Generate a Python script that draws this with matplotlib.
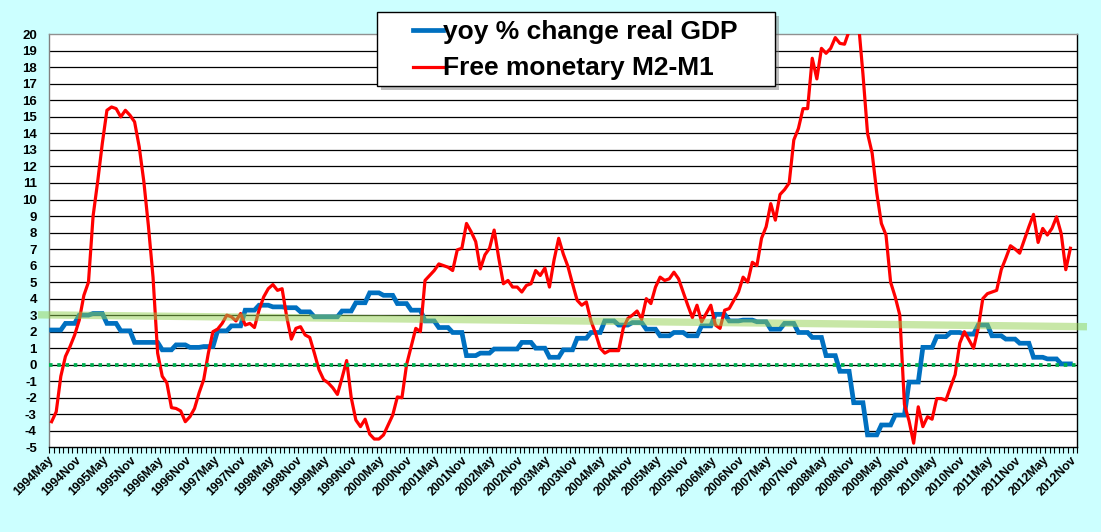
import numpy as np
import pandas as pd
import matplotlib
matplotlib.use("Agg")
import matplotlib.pyplot as plt
import matplotlib.transforms as mtransforms
from matplotlib.patches import Rectangle
from matplotlib.lines import Line2D

plt.rcParams['font.family'] = ['Liberation Sans', 'DejaVu Sans']
plt.rcParams['font.weight'] = 'bold'
plt.rcParams['axes.unicode_minus'] = False

# monthly categories 1994May .. 2012Nov
months = pd.date_range('1994-05-01', '2012-11-01', freq='MS')
month_labels = [f"{d.year}{d.strftime('%b')}" for d in months]

# yoy % change real GDP, one value per quarter (plotted monthly)
gdp_quarterly = [2.1, 2.5, 3.0, 3.1, 2.5, 2.05, 1.35, 1.35, 0.9, 1.2,
                 1.05, 1.1, 2.05, 2.35, 3.3, 3.6, 3.5, 3.45, 3.2, 2.9,
                 2.9, 3.25, 3.75, 4.35, 4.2, 3.7, 3.3, 2.65, 2.25, 1.95,
                 0.55, 0.7, 0.95, 0.95, 1.35, 1.0, 0.45, 0.9, 1.6, 1.95,
                 2.65, 2.4, 2.55, 2.15, 1.75, 1.95, 1.75, 2.35, 3.05, 2.65,
                 2.7, 2.6, 2.15, 2.5, 1.95, 1.65, 0.55, -0.4, -2.3, -4.25,
                 -3.65, -3.05, -1.05, 1.05, 1.7, 1.95, 1.85, 2.4, 1.75, 1.55,
                 1.3, 0.45, 0.35, 0.05]

# free monetary M2-M1, monthly from 1994May
m2m1_monthly = [
    -3.45, -2.85, -0.7, 0.5, 1.1, 1.8, 2.7, 4.2, 5.0, 9.0, 11.1, 13.4,
    15.4, 15.6, 15.5, 15.0, 15.4, 15.1, 14.7, 13.2, 11.1, 8.4, 5.3, 0.7,
    -0.7, -1.1, -2.6, -2.65, -2.8, -3.45, -3.15, -2.65, -1.7, -0.9, 0.7, 2.0,
    2.15, 2.5, 3.0, 2.9, 2.65, 3.1, 2.4, 2.5, 2.25, 3.3, 4.1, 4.6,
    4.85, 4.5, 4.6, 2.9, 1.55, 2.2, 2.3, 1.8, 1.65, 0.7, -0.3, -0.9,
    -1.1, -1.4, -1.8, -0.8, 0.25, -2.0, -3.35, -3.75, -3.3, -4.2, -4.5, -4.5,
    -4.25, -3.65, -3.05, -1.95, -2.0, 0.0, 1.1, 2.2, 2.0, 5.1, 5.4, 5.7,
    6.1, 6.0, 5.9, 5.7, 6.95, 7.05, 8.55, 8.05, 7.45, 5.8, 6.65, 7.05,
    8.15, 6.45, 4.9, 5.1, 4.7, 4.7, 4.4, 4.8, 4.9, 5.7, 5.4, 5.85,
    4.7, 6.35, 7.65, 6.7, 5.95, 4.9, 3.9, 3.6, 3.8, 2.65, 1.9, 1.0,
    0.7, 0.85, 0.85, 0.85, 2.2, 2.8, 3.0, 3.25, 2.75, 4.0, 3.7, 4.7,
    5.3, 5.1, 5.2, 5.6, 5.2, 4.4, 3.6, 2.85, 3.6, 2.6, 3.1, 3.6,
    2.4, 2.2, 3.3, 3.4, 3.9, 4.4, 5.3, 5.0, 6.2, 6.0, 7.65, 8.35,
    9.75, 8.75, 10.3, 10.6, 11.0, 13.6, 14.3, 15.5, 15.5, 18.55, 17.3, 19.15,
    18.85, 19.15, 19.8, 19.45, 19.4, 20.2, 21.0, 20.8, 17.6, 14.0, 12.8, 10.4,
    8.55, 7.85, 5.0, 4.1, 3.0, -2.4, -3.4, -4.75, -2.55, -3.75, -3.15, -3.3,
    -2.05, -2.05, -2.15, -1.35, -0.6, 1.3, 2.0, 1.5, 1.0, 2.2, 4.0, 4.3,
    4.4, 4.5, 5.75, 6.45, 7.2, 7.0, 6.75, 7.55, 8.35, 9.1, 7.4, 8.25,
    7.85, 8.25, 8.95, 7.95, 5.75, 7.05,
]

# hand-drawn trend band (extends past the plot area)
trend_x = [-2.95, 224.6]
trend_y = [3.02, 2.3]

W, H = 1101, 532
fig = plt.figure(figsize=(W / 100, H / 100), dpi=100, facecolor='#CCFFFF')
ax = fig.add_axes([49.3 / W, 1 - 447.3 / H, (1077.3 - 49.3) / W, (447.3 - 34.3) / H])
ax.set_facecolor('white')

gdp = np.repeat(gdp_quarterly, 3)
x_gdp = np.arange(len(gdp))
x_m2 = np.arange(len(m2m1_monthly))

for v in range(-4, 20):
    ax.axhline(v, color='black', lw=0.9, zorder=1)

ax.plot(x_gdp, gdp, color='#0070C0', lw=3.4, zorder=3, solid_joinstyle='miter')
ax.plot(x_m2, m2m1_monthly, color='#FF0000', lw=2.3, zorder=4)

ax.plot(trend_x, trend_y, color='#92D050', alpha=0.5, lw=5.3, clip_on=False,
        zorder=5, solid_capstyle='butt')
ax.plot([-0.5, len(months) - 0.5], [0, 0], color='#00B050', lw=2.7,
        dashes=(0.95, 1.25), zorder=5, clip_on=False)

ax.set_xlim(-0.5, len(months) - 0.5)
ax.set_ylim(-5, 20)
ax.set_yticks(range(-5, 21))
ax.tick_params(axis='y', length=0, pad=9, labelsize=9.5)

label_pos = np.arange(0, len(months), 6)
ax.set_xticks(label_pos)
ax.set_xticklabels([month_labels[i] for i in label_pos], rotation=45,
                   ha='right', va='top', fontsize=8.7)
ax.set_xticks(np.arange(-0.5, len(months)), minor=True)
ax.tick_params(axis='x', which='major', length=0, pad=5)
ax.tick_params(axis='x', which='minor', length=4, width=0.8, direction='out')
shift = mtransforms.ScaledTranslation(4 / 100, 0, fig.dpi_scale_trans)
for lab in ax.get_xticklabels():
    lab.set_transform(lab.get_transform() + shift)

ax.spines['left'].set_color('#808080')
ax.spines['top'].set_color('#909090')
ax.spines['right'].set_color('black')
ax.spines['bottom'].set_color('black')
for s in ax.spines.values():
    s.set_linewidth(1.0)


def fx(px):
    return px / W


def fy(py):
    return 1 - py / H


# legend box drawn by hand
fig.add_artist(Rectangle((fx(381), fy(90)), 398 / W, 74 / H, transform=fig.transFigure,
                         facecolor='#707070', alpha=0.45, edgecolor='none', zorder=8))
fig.add_artist(Rectangle((fx(377), fy(86)), 398 / W, 74 / H, transform=fig.transFigure,
                         facecolor='white', edgecolor='black', lw=1.0, zorder=9))
fig.add_artist(Line2D([fx(413), fx(443)], [fy(30), fy(30)], transform=fig.transFigure,
                      color='#0070C0', lw=3.4, zorder=10))
fig.add_artist(Line2D([fx(413), fx(443)], [fy(67), fy(67)], transform=fig.transFigure,
                      color='#FF0000', lw=2.3, zorder=10))
fig.text(fx(443), fy(38.5), 'yoy % change real GDP', fontsize=19, fontweight='bold',
         va='baseline', zorder=10)
fig.text(fx(443), fy(75), 'Free monetary M2-M1', fontsize=19, fontweight='bold',
         va='baseline', zorder=10)

fig.savefig('out.png', dpi=100, facecolor=fig.get_facecolor())
